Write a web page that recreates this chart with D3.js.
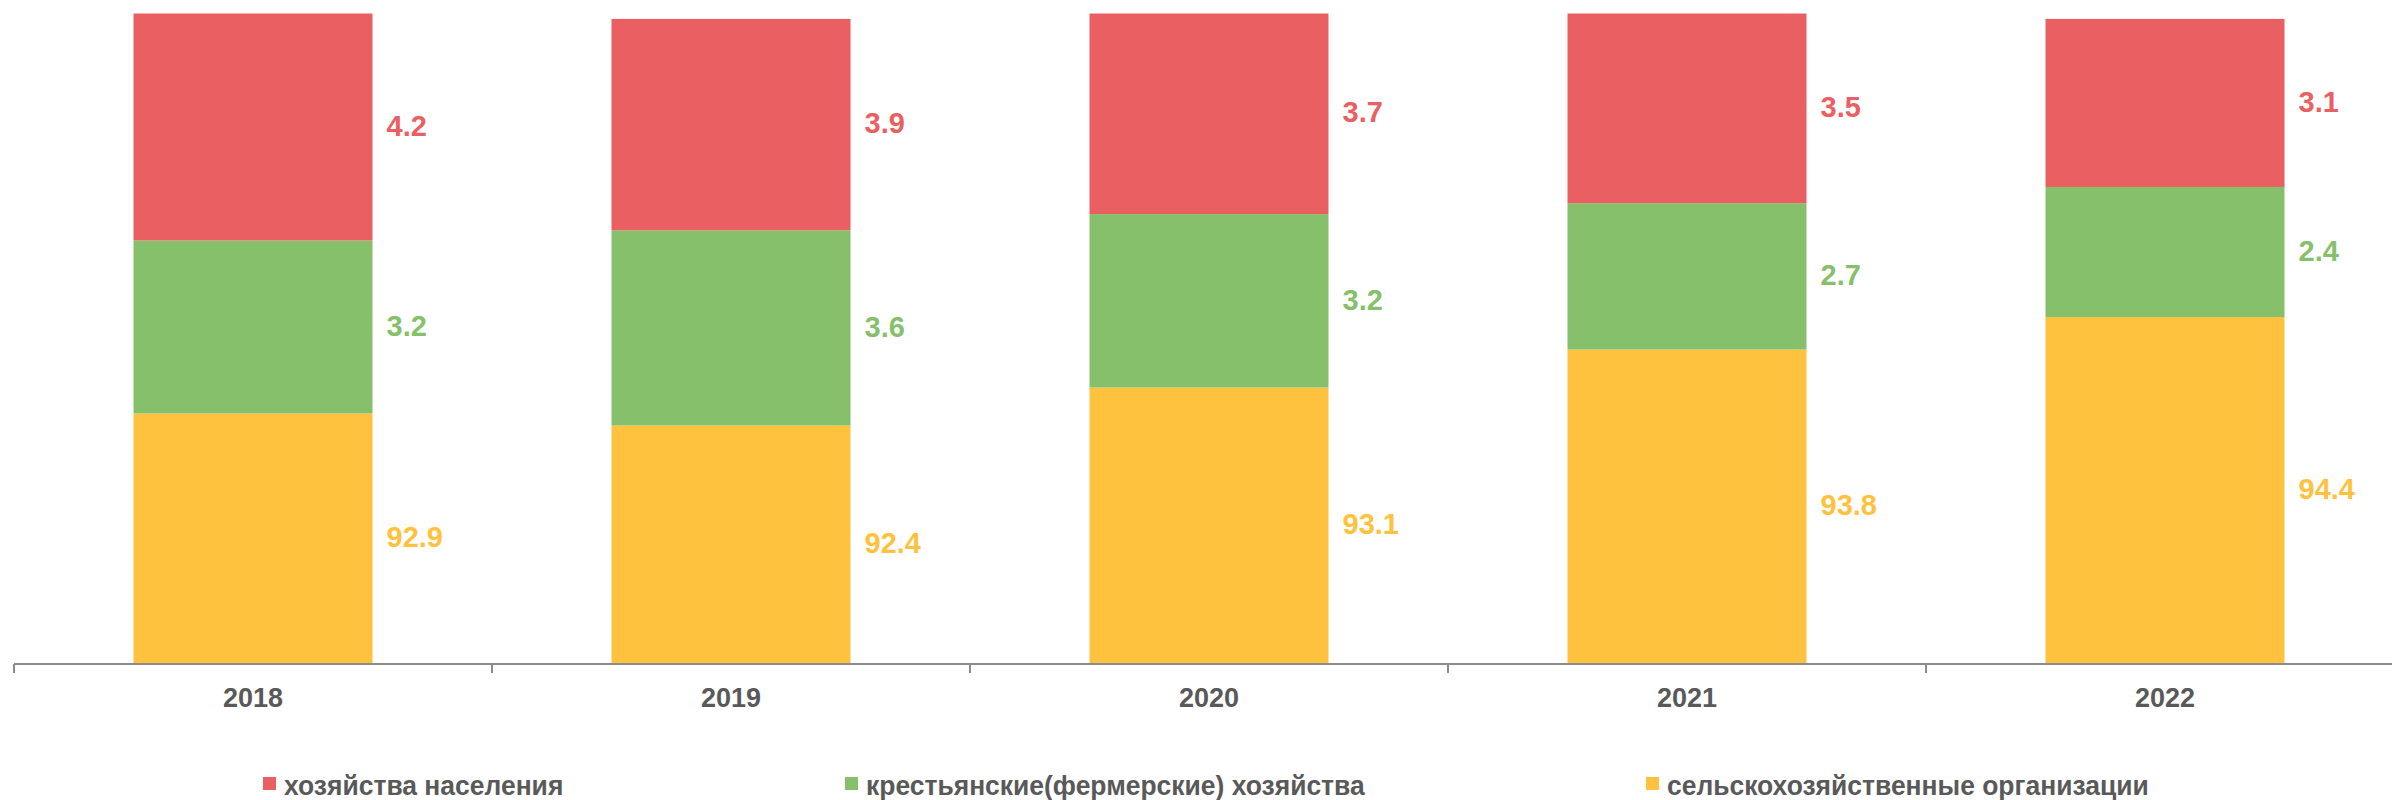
<!DOCTYPE html>
<html>
<head>
<meta charset="utf-8">
<script src="https://cdn.jsdelivr.net/npm/d3@7"></script>
<style>
  html, body { margin: 0; padding: 0; background: #fff; }
  svg { display: block; font-family: "Liberation Sans", Arial, sans-serif; }
</style>
</head>
<body>
<svg id="chart" width="2392" height="800"></svg>
<script>
const years = ['2018', '2019', '2020', '2021', '2022']
const orgs = [92.9, 92.4, 93.1, 93.8, 94.4]       // сельскохозяйственные организации
const farms = [3.2, 3.6, 3.2, 2.7, 2.4]           // крестьянские(фермерские) хозяйства
const households = [4.2, 3.9, 3.7, 3.5, 3.1]      // хозяйства населения

const seriesNames = ['сельскохозяйственные организации', 'крестьянские(фермерские) хозяйства', 'хозяйства населения']
const seriesColors = ['#FEC23E', '#87C06B', '#EA5F61']
const legendOrder = [2, 1, 0]

const svg = d3.select('#chart')
const textColor = '#595959'

const rows = years.map((y, i) => ({ year: y, s0: orgs[i], s1: farms[i], s2: households[i] }))

// normal stacking, but a column whose shares add up to more than 100 is rescaled to end at 100
const offsetCap = (series, order) => {
  d3.stackOffsetNone(series, order)
  const n = series[0].length
  for (let j = 0; j < n; j++) {
    const top = series[order[order.length - 1]][j][1]
    if (top > 100) {
      const k = 100 / top
      series.forEach(s => { s[j][0] *= k; s[j][1] *= k })
    }
  }
}
const stack = d3.stack().keys(['s0', 's1', 's2']).offset(offsetCap)
const layers = stack(rows)

const x = d3.scaleBand()
  .domain(years)
  .range([14, 2404])
  .paddingInner(0.5)
  .paddingOuter(0.25)

// value axis starts at 88
const y = d3.scaleLinear().domain([88, 100]).range([664, 13.5])

const g = svg.append('g')

layers.forEach((layer, k) => {
  const key = layer.key
  g.selectAll('.bar' + k)
    .data(layer)
    .enter().append('rect')
      .attr('x', d => x(d.data.year))
      .attr('y', d => y(d[1]))
      .attr('width', x.bandwidth())
      .attr('height', d => y(Math.max(d[0], 88)) - y(d[1]))
      .attr('fill', seriesColors[k])

  g.selectAll('.lbl' + k)
    .data(layer)
    .enter().append('text')
      .attr('x', d => x(d.data.year) + x.bandwidth() + 14)
      .attr('y', d => (y(Math.max(d[0], 88)) + y(d[1])) / 2)
      .attr('dy', '0.3em')
      .attr('fill', seriesColors[k])
      .attr('font-size', 29)
      .attr('font-weight', 'bold')
      .text(d => d.data[key].toFixed(1))
})

// x axis with ticks between categories
const axisY = y(88)
const step = x.step()
const edges = d3.range(years.length + 1).map(i => 14 + i * step)
g.append('line')
  .attr('x1', 14).attr('x2', 2392)
  .attr('y1', axisY).attr('y2', axisY)
  .attr('stroke', '#8c8c8c').attr('stroke-width', 2)
g.selectAll('.tick')
  .data(edges)
  .enter().append('line')
    .attr('x1', d => d).attr('x2', d => d)
    .attr('y1', axisY).attr('y2', axisY + 9)
    .attr('stroke', '#8c8c8c').attr('stroke-width', 2)
g.selectAll('.year')
  .data(years)
  .enter().append('text')
    .attr('x', d => x(d) + x.bandwidth() / 2)
    .attr('y', 707)
    .attr('text-anchor', 'middle')
    .attr('fill', textColor)
    .attr('font-size', 27)
    .attr('font-weight', 'bold')
    .text(d => d)

// legend
const legendX = [263, 845, 1646]
const legend = g.selectAll('.legend')
  .data(legendOrder)
  .enter().append('g')
    .attr('transform', (d, i) => `translate(${legendX[i]},0)`)
legend.append('rect')
  .attr('x', 0).attr('y', 777)
  .attr('width', 13).attr('height', 13)
  .attr('fill', d => seriesColors[d])
legend.append('text')
  .attr('transform', 'translate(21,795) scale(0.945,1)')
  .attr('fill', textColor)
  .attr('font-size', 28)
  .attr('font-weight', 'bold')
  .text(d => seriesNames[d])
</script>
</body>
</html>
